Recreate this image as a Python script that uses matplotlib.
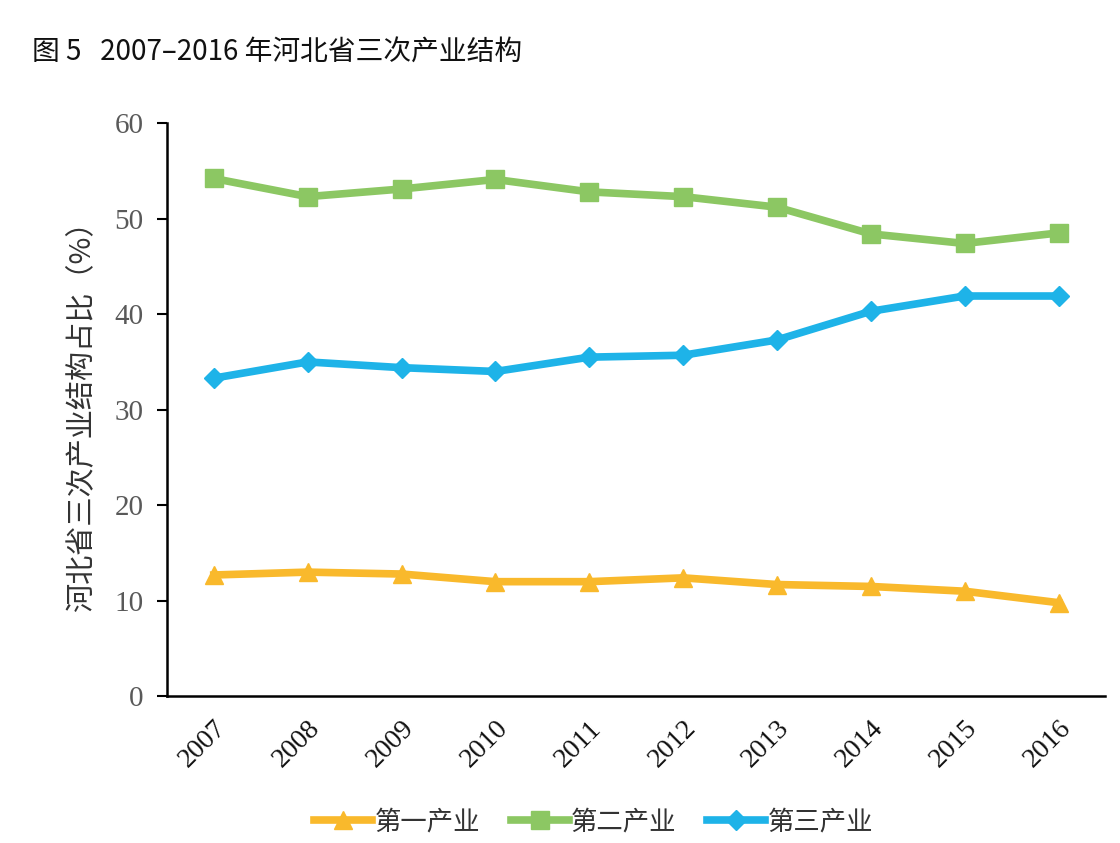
import matplotlib
matplotlib.use("Agg")
import matplotlib.pyplot as plt

plt.rcParams['font.family'] = ['Noto Sans CJK SC', 'DejaVu Sans']

# Data
years = ['2007', '2008', '2009', '2010', '2011', '2012', '2013', '2014', '2015', '2016']
primary = [12.7, 13.0, 12.8, 12.0, 12.0, 12.4, 11.7, 11.5, 11.0, 9.8]
secondary = [54.2, 52.3, 53.1, 54.1, 52.8, 52.3, 51.2, 48.4, 47.4, 48.5]
tertiary = [33.3, 35.0, 34.4, 34.0, 35.5, 35.7, 37.3, 40.3, 41.9, 41.9]
series_names = ['第一产业', '第二产业', '第三产业']

fig = plt.figure(figsize=(11.2, 8.43), dpi=100)
ax = fig.add_axes([0.149, 0.174, 0.838, 0.680])

x = range(len(years))
ax.plot(x, primary, color='#F9B92C', lw=5.5, marker='^', ms=13, label=series_names[0])
ax.plot(x, secondary, color='#8CC763', lw=5.5, marker='s', ms=13, label=series_names[1])
ax.plot(x, tertiary, color='#1EB3E8', lw=5.5, marker='D', ms=10, label=series_names[2])

ax.set_xlim(-0.5, len(years) - 0.5)
ax.set_ylim(0, 60)
ax.set_yticks(range(0, 61, 10))
ax.set_xticks(list(x))
ax.set_xticklabels(years, rotation=45, ha='right', rotation_mode='anchor',
                   fontfamily='Liberation Serif', fontsize=20, color='#111111')
for lab in ax.get_yticklabels():
    lab.set_fontfamily('Liberation Serif')
ax.tick_params(axis='y', labelsize=21, labelcolor='#595959', length=7, width=1.5, pad=10)
ax.tick_params(axis='x', length=0, pad=14)

for side in ['top', 'right']:
    ax.spines[side].set_visible(False)
for side in ['left', 'bottom']:
    ax.spines[side].set_linewidth(1.8)

ax.set_ylabel('河北省三次产业结构占比（%）', fontsize=21, color='#333333', labelpad=12)

fig.text(0.029, 0.937, '图 5   2007–2016 年河北省三次产业结构', fontsize=20, color='#111111',
         va='center', ha='left')

fig.legend(loc='center', bbox_to_anchor=(0.53, 0.025), ncol=3, frameon=False,
           fontsize=19, handlelength=2.2, columnspacing=1.15, handletextpad=0.1,
           labelcolor='#333333')

fig.savefig('out.png', dpi=100)
